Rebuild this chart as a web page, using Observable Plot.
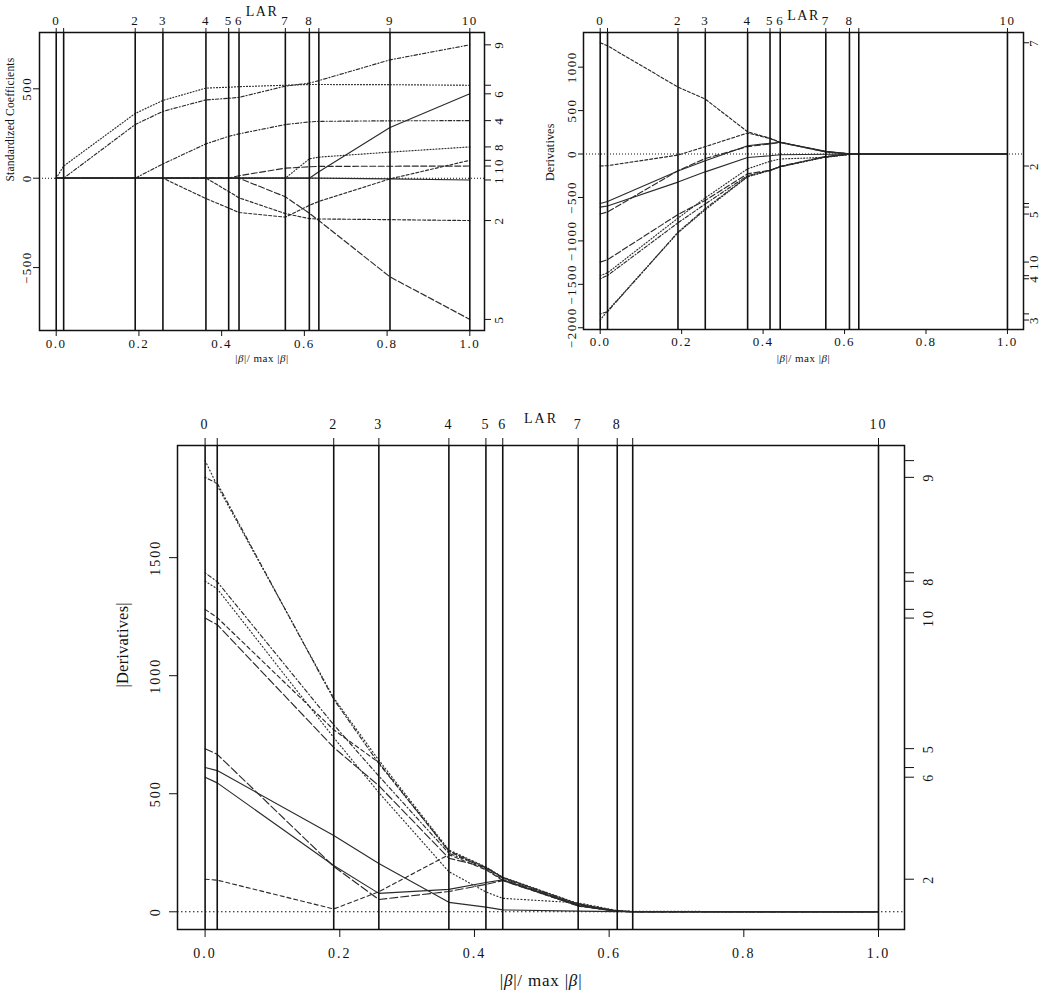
<!DOCTYPE html>
<html><head><meta charset="utf-8">
<script src="https://cdn.jsdelivr.net/npm/d3@7"></script>
<script src="https://cdn.jsdelivr.net/npm/@observablehq/plot@0.6"></script>
<style>
body{margin:0;background:#fff;}
#wrap{position:relative;width:1050px;height:995px;overflow:hidden;background:#fff;}
#wrap svg{position:absolute;}
</style></head><body><div id="wrap"></div>
<script>
// ---------- data ----------
const variables = [1, 2, 3, 4, 5, 6, 7, 8, 9, 10];
const xTicks = [0, 0.2, 0.4, 0.6, 0.8, 1.0];

// LAR step positions (|beta|/max|beta|) and their top-axis labels
const coefStepX = [0, 0.018, 0.191, 0.258, 0.362, 0.417, 0.442, 0.554, 0.612, 0.635, 0.807, 1.0];
const coefStepLabels = ["0", "", "2", "3", "4", "5", "6", "7", "8", "", "9", "10"];
const derivStepX = [0, 0.018, 0.191, 0.258, 0.362, 0.417, 0.442, 0.554, 0.612, 0.635, 1.0];
const derivStepLabels = ["0", "", "2", "3", "4", "5", "6", "7", "8", "", "10"];

// Standardized coefficients at each step (one array per variable)
const coef1  = [0, 0, 0, 0, 0, 0, 0, 0, 0, 0, -4, -10];
const coef2  = [0, 0, 0, 0, 0, -74, -110, -198, -226, -228, -232, -237];
const coef3  = [0, 68, 362, 435, 504, 509, 512, 520, 524, 524, 523, 520];
const coef4  = [0, 0, 0, 80, 192, 234, 248, 300, 315, 318, 321, 322];
const coef5  = [0, 0, 0, 0, 0, 0, 0, -104, -196, -237, -552, -790];
const coef6  = [0, 0, 0, 0, 0, 0, 0, 0, 0, 36, 284, 472];
const coef7  = [0, 0, 0, 0, -114, -167, -192, -218, -152, -130, -4, 100];
const coef8  = [0, 0, 0, 0, 0, 0, 0, 0, 108, 118, 146, 175];
const coef9  = [0, 0, 300, 374, 438, 447, 452, 515, 532, 546, 662, 746];
const coef10 = [0, 0, 0, 0, 0, 0, 14, 56, 64, 66, 67, 68];

// Derivatives at each step (one array per variable)
const deriv1  = [-611, -598, -323, -205, -40, -20, -8, -3, -1, 0, 0];
const deriv2  = [-138, -134, -12, 85, 242, 178, 133, 24, 2, 0, 0];
const deriv3  = [-1911, -1805, -906, -642, -262, -190, -147, -35, -3, -1, 0];
const deriv4  = [-1436, -1398, -792, -575, -248, -186, -146, -33, -3, -1, 0];
const deriv5  = [-691, -667, -192, -52, 86, 116, 132, 27, 3, 0, 0];
const deriv6  = [-570, -546, -196, -78, 95, 124, 135, 30, 3, 1, 0];
const deriv7  = [1281, 1246, 771, 632, 256, 182, 136, 25, 2, 0, 0];
const deriv8  = [-1400, -1368, -738, -505, -170, -84, -57, -38, -5, -2, 0];
const deriv9  = [-1840, -1815, -900, -628, -258, -188, -145, -33, -3, -1, 0];
const deriv10 = [-1244, -1216, -696, -534, -227, -188, -142, -27, -2, 0, 0];

// right-axis labels (blank = label hidden by overlap in the original)
const coefRightLabels = ["1", "2", "", "4", "5", "6", "", "8", "9", "10"];
const derivRightLabels = ["", "2", "3", "4", "5", "", "7", "", "", "10"];
const absDerivRightLabels = ["", "2", "", "", "5", "6", "", "8", "9", "10"];

const coefYTicks = [-500, 0, 500];
const derivYTicks = [-2000, -1500, -1000, -500, 0, 500, 1000];
const absDerivYTicks = [0, 500, 1000, 1500];

// ---------- build rows ----------
const coefSeries = [coef1, coef2, coef3, coef4, coef5, coef6, coef7, coef8, coef9, coef10];
const derivSeries = [deriv1, deriv2, deriv3, deriv4, deriv5, deriv6, deriv7, deriv8, deriv9, deriv10];
const coefRows = coefSeries.flatMap((vals, j) => vals.map((y, i) => ({x: coefStepX[i], y, v: variables[j]})));
const derivRows = derivSeries.flatMap((vals, j) => vals.map((y, i) => ({x: derivStepX[i], y, v: variables[j]})));
const absDerivRows = derivSeries.flatMap((vals, j) => vals.map((y, i) => ({x: derivStepX[i], y: Math.abs(y), v: variables[j]})));
const coefRight = coefSeries.map(a => a[a.length - 1]);
const derivRight = derivSeries.map(a => a[0]);
const absDerivRight = derivSeries.map(a => Math.abs(a[0]));

const FONT = "'Liberation Serif', 'DejaVu Serif', serif";
const fmt1 = d3.format(".1f");
const fmtInt = d3.format("d");
const XLABEL = "|β|/ max |β|";

function panel(c) {
  const marks = [
    Plot.ruleY([0], {stroke: "#111", strokeWidth: 1.1, strokeDasharray: c.zeroDash}),
    ...c.dashes.map((dash, k) => Plot.line(c.rows.filter(r => (r.v - 1) % 5 === k),
      {x: "x", y: "y", z: "v", stroke: "#2b2b2b", strokeWidth: 1.15, strokeDasharray: dash || null})),
    Plot.ruleX(c.stepX, {stroke: "#111", strokeWidth: 1.6}),
    Plot.frame({stroke: "#111", strokeWidth: 1.5}),
    Plot.axisX(xTicks, {anchor: "bottom", tickSize: c.tick, tickPadding: c.padBottom, tickFormat: fmt1, fontSize: c.font, label: null}),
    Plot.axisX(c.stepX, {anchor: "top", tickSize: c.topTick, tickPadding: c.padTop, tickFormat: (d, i) => c.stepLabels[i], fontSize: c.font, label: null}),
    Plot.axisY(c.yTicks, {anchor: "left", tickSize: c.tick, tickPadding: c.padLeft, tickRotate: -90, tickFormat: fmtInt, fontSize: c.font, label: null}),
    Plot.axisY(c.right, {anchor: "right", tickSize: c.rightTick, tickPadding: c.padRight, tickRotate: -90, lineAnchor: "top", tickFormat: (d, i) => c.rightLabels[i], fontSize: c.font, label: null}),
    Plot.text(["LAR"], {text: d => d, frameAnchor: "top", dy: c.larDy, fontSize: 14}),
    Plot.text([c.yLabel], {text: d => d, frameAnchor: "left", dx: c.yLabelDx, rotate: -90, fontSize: c.yLabelSize}),
    Plot.text([XLABEL], {text: d => d, frameAnchor: "bottom", dy: c.xLabelDy, fontSize: c.xLabelSize})
  ];
  const svg = Plot.plot({
    width: c.width, height: c.height,
    marginLeft: c.mL, marginRight: c.mR, marginTop: c.mT, marginBottom: c.mB,
    x: {domain: c.xDomain, axis: null},
    y: {domain: c.yDomain, axis: null},
    style: {fontFamily: FONT, fontSize: c.font + "px", color: "#111", background: "transparent", overflow: "visible", letterSpacing: c.spacing + "px"},
    marks
  });
  svg.style.left = c.left + "px";
  svg.style.top = c.top + "px";
  const sel = d3.select(svg).selectAll("text");
  sel.filter(function () { return this.textContent === c.yLabel; })
    .style("letter-spacing", "0.2px");
  sel.filter(function () { return this.textContent === XLABEL; })
    .style("letter-spacing", c.xLabelSpacing + "px")
    .each(function () {
      const t = d3.select(this);
      t.text("");
      t.append("tspan").text("|");
      t.append("tspan").attr("font-style", "italic").text("β");
      t.append("tspan").text("|/ max |");
      t.append("tspan").attr("font-style", "italic").text("β");
      t.append("tspan").text("|");
    });
  document.getElementById("wrap").appendChild(svg);
}

const smallDashes = ["", "3,2", "1,2", "1,2,3.5,2", "6,2.5"];
const bigDashes = ["", "4,3", "1,2.5", "1,2.5,4,2.5", "8,3"];

panel({
  left: 0, top: 0, width: 520, height: 372, mL: 39, mR: 36, mT: 32, mB: 42,
  xDomain: [-0.0404, 1.0355], yDomain: [-852, 815],
  rows: coefRows, stepX: coefStepX, stepLabels: coefStepLabels,
  yTicks: coefYTicks, right: coefRight, rightLabels: coefRightLabels,
  dashes: smallDashes, zeroDash: "1,2",
  font: 13, spacing: 1.5, tick: 6, topTick: 5, rightTick: 6,
  padBottom: 2, padTop: 3, padLeft: 3, padRight: 3,
  larDy: -26, yLabel: "Standardized Coefficients", yLabelDx: -29, yLabelSize: 11.5,
  xLabelDy: 31, xLabelSize: 11, xLabelSpacing: 0.5
});

panel({
  left: 530, top: 0, width: 520, height: 372, mL: 53, mR: 27, mT: 32, mB: 43,
  xDomain: [-0.041, 1.0394], yDomain: [-2020, 1399],
  rows: derivRows, stepX: derivStepX, stepLabels: derivStepLabels,
  yTicks: derivYTicks, right: derivRight, rightLabels: derivRightLabels,
  dashes: smallDashes, zeroDash: "1,2",
  font: 13, spacing: 1.5, tick: 5, topTick: 5, rightTick: 5,
  padBottom: 2, padTop: 3, padLeft: 3, padRight: 0,
  larDy: -22, yLabel: "Derivatives", yLabelDx: -33, yLabelSize: 12,
  xLabelDy: 32, xLabelSize: 11, xLabelSpacing: 0.5
});

panel({
  left: 100, top: 380, width: 850, height: 615, mL: 77, mR: 46, mT: 65, mB: 66,
  xDomain: [-0.041, 1.0386], yDomain: [-75, 1975],
  rows: absDerivRows, stepX: derivStepX, stepLabels: derivStepLabels,
  yTicks: absDerivYTicks, right: absDerivRight, rightLabels: absDerivRightLabels,
  dashes: bigDashes, zeroDash: "1.5,2.5",
  font: 14, spacing: 2, tick: 8, topTick: 8, rightTick: 9,
  padBottom: 11, padTop: 9, padLeft: 10, padRight: 10,
  larDy: -32, yLabel: "|Derivatives|", yLabelDx: -55, yLabelSize: 16.5,
  xLabelDy: 56, xLabelSize: 17, xLabelSpacing: 0.8
});
</script></body></html>
